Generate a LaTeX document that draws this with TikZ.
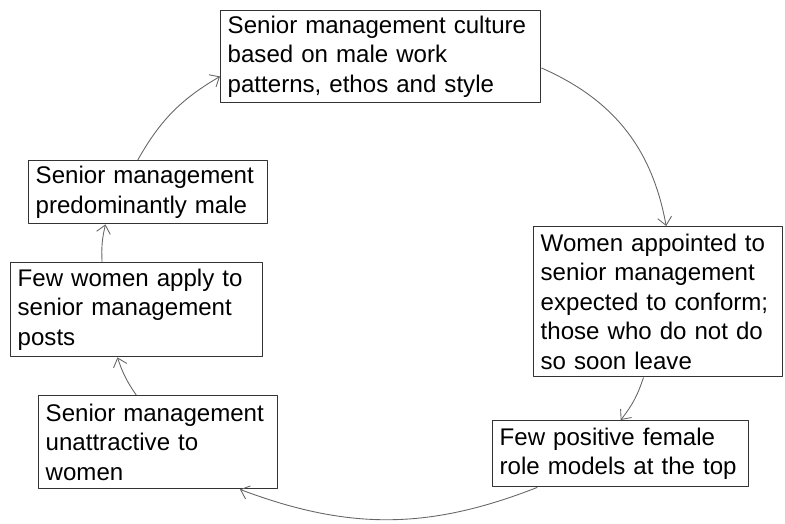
\documentclass[tikz,border=0pt]{standalone}
\usepackage{fontspec}
\setmainfont{Liberation Sans}
\usetikzlibrary{arrows.meta}

\begin{document}
\begin{tikzpicture}[x=0.2mm, y=-0.2mm, line join=round, >={Straight Barb[length=1.6mm,width=2.8mm]}]
\tikzset{every node/.style={font=\fontsize{13.7}{16.8}\selectfont},
  cyclebox/.style={draw=black!80, line width=0.8pt, anchor=north west, align=left, inner xsep=1.4mm, inner ysep=0.5mm},
  cyclearrow/.style={->, draw=black!60, line width=0.5pt}}
\useasboundingbox (0,0) rectangle (785,523);
% the six stages, clockwise from the top
\node[cyclebox, text width=61.2mm, minimum height=18.4mm] (top) at (220,10)
  {Senior management culture\\ based on male work\\ patterns, ethos and style};
\node[cyclebox, text width=47mm, minimum height=30mm] (conform) at (533,226)
  {Women appointed to\\ senior management\\ expected to conform;\\ those who do not do\\ so soon leave};
\node[cyclebox, text width=48.4mm, minimum height=13.2mm] (models) at (492,420)
  {Few positive female\\ role models at the top};
\node[cyclebox, text width=45mm, minimum height=18.6mm] (unattr) at (38,395)
  {Senior management\\ unattractive to\\ women};
\node[cyclebox, text width=47.6mm, minimum height=18.8mm] (apply) at (10,262)
  {Few women apply to\\ senior management\\ posts};
\node[cyclebox, text width=45mm, minimum height=12.6mm] (male) at (28,160)
  {Senior management\\ predominantly male};
% the cycle
\draw[cyclearrow] (male.108) to[bend left=15] (top.187);
\draw[cyclearrow] (top.-4) to[bend left=28] (conform.84);
\draw[cyclearrow] (conform.-101) to[bend left=10] (models.90);
\draw[cyclearrow] (models.-158) to[bend left=21] (unattr.-30);
\draw[cyclearrow] (unattr.115) to[bend left=8] (apply.-112);
\draw[cyclearrow] (apply.126) to[bend left=8] (male.-143);
\end{tikzpicture}
\end{document}
